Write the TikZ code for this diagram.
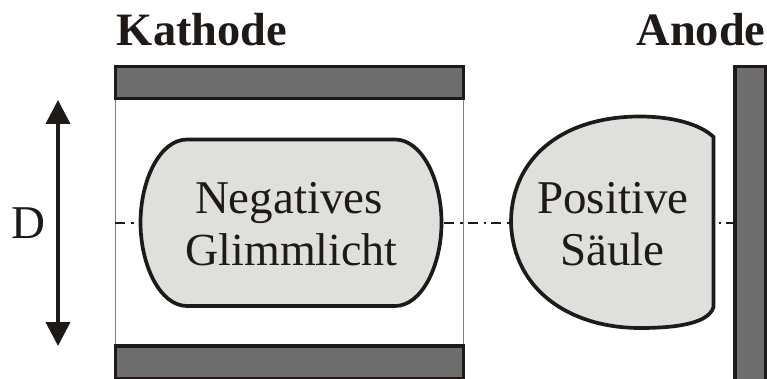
\documentclass[tikz,border=0pt]{standalone}
\usepackage{fontspec}
\setmainfont{Liberation Serif}
\usetikzlibrary{arrows.meta}
\definecolor{ink}{HTML}{1F1A17}
\definecolor{plate}{HTML}{6E6E6E}
\definecolor{glow}{HTML}{DFDFDE}
\definecolor{wall}{HTML}{808080}
\tikzset{
  electrode/.style={draw=ink,fill=plate,line width=3.4pt,inner sep=0pt,outer sep=0pt,anchor=north west},
  glowshape/.style={draw=ink,fill=glow,line width=3.7pt},
  title/.style={font=\fontsize{46.4}{46.4}\selectfont\bfseries,text=ink,anchor=base,inner sep=0pt},
  label/.style={font=\fontsize{47}{47}\selectfont,text=ink,anchor=base,inner sep=0pt},
  labelsmall/.style={font=\fontsize{46}{46}\selectfont,text=ink,anchor=base,inner sep=0pt},
  axisline/.style={draw=ink,line width=2pt,dash pattern=on 10pt off 6pt on 2.5pt off 5pt},
  wallline/.style={draw=wall,line width=1.4pt},
  dimarrow/.style={draw=ink,line width=4pt,{Triangle[length=24pt,width=24pt]}-{Triangle[length=24pt,width=24pt]}}
}
\begin{document}
\begin{tikzpicture}[x=1pt,y=-1pt]
\useasboundingbox (0,0) rectangle (767,379);
\coordinate (axisA) at (115,222.5);
\coordinate (axisB) at (733,222.5);
\coordinate (dimT) at (58,100);
\coordinate (dimB) at (58,346);
\coordinate (wallTL) at (115.5,99);
\coordinate (wallBL) at (115.5,346);
\coordinate (wallTR) at (463.3,99);
\coordinate (wallBR) at (463.3,346);
\draw[wallline] (wallTL) -- (wallBL);
\draw[wallline] (wallTR) -- (wallBR);
\draw[axisline] (axisA) -- (axisB);
\node[electrode,minimum width=347.9pt,minimum height=32.4pt] (ktop) at (115.4,66.4) {};
\node[electrode,minimum width=347.9pt,minimum height=33pt] (kbot) at (115.4,346) {};
\node[electrode,minimum width=30.3pt,minimum height=320pt] (anode) at (735,66.4) {};
\path[glowshape] (187,139.5) -- (395,139.5)
  .. controls (422,139.5) and (441.5,180) .. (441.5,222.5)
  .. controls (441.5,265) and (422,306) .. (395,306)
  -- (187,306)
  .. controls (160,306) and (140.5,265) .. (140.5,222.5)
  .. controls (140.5,180) and (160,139.5) .. (187,139.5) -- cycle;
\path[glowshape] (713.5,137)
  .. controls (700,124) and (672,116.5) .. (640,116.5)
  .. controls (560,116.5) and (511,160) .. (511,222.5)
  .. controls (513,290) and (570,328) .. (640,328)
  .. controls (682,328) and (709,322) .. (713.5,307)
  -- cycle;
\draw[dimarrow] (dimT) -- (dimB);
\node[title] (kathode) at (202,46) {Kathode};
\node[title] (anodet) at (701,46) {Anode};
\node[label] (neg) at (289,213) {Negatives};
\node[labelsmall] (gl) at (291.5,265) {Glimmlicht};
\node[label] (pos) at (613,213) {Positive};
\node[label] (saeule) at (612.5,265) {Säule};
\node[label] (d) at (28,238) {D};
\end{tikzpicture}
\end{document}
